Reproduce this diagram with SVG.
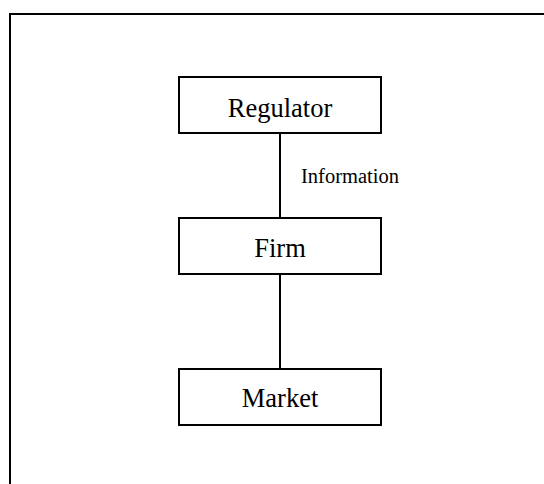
<svg xmlns="http://www.w3.org/2000/svg" width="544" height="484" viewBox="0 0 544 484">
  <style>
    .box { fill: #ffffff; stroke: #000000; stroke-width: 2; }
    .edge { stroke: #000000; stroke-width: 2; fill: none; }
    .label { font-family: "Liberation Serif", "Times New Roman", serif; font-size: 26.5px; fill: #000000; text-anchor: middle; }
    .edge-label { font-family: "Liberation Serif", "Times New Roman", serif; font-size: 20.5px; fill: #000000; }
  </style>
  <rect x="0" y="0" width="544" height="484" fill="#ffffff"/>
  <!-- outer frame, runs off the right and bottom edges -->
  <rect x="10" y="14" width="560" height="500" fill="none" stroke="#000000" stroke-width="2"/>

  <g id="connectors">
    <line class="edge" x1="280" y1="133" x2="280" y2="218"/>
    <line class="edge" x1="280" y1="274" x2="280" y2="369"/>
    <text class="edge-label" x="301" y="183">Information</text>
  </g>

  <g id="regulator">
    <rect class="box" x="179" y="77" width="202" height="56"/>
    <text class="label" x="280" y="117">Regulator</text>
  </g>

  <g id="firm">
    <rect class="box" x="179" y="218" width="202" height="56"/>
    <text class="label" x="280" y="257">Firm</text>
  </g>

  <g id="market">
    <rect class="box" x="179" y="369" width="202" height="56"/>
    <text class="label" x="280" y="407">Market</text>
  </g>
</svg>
